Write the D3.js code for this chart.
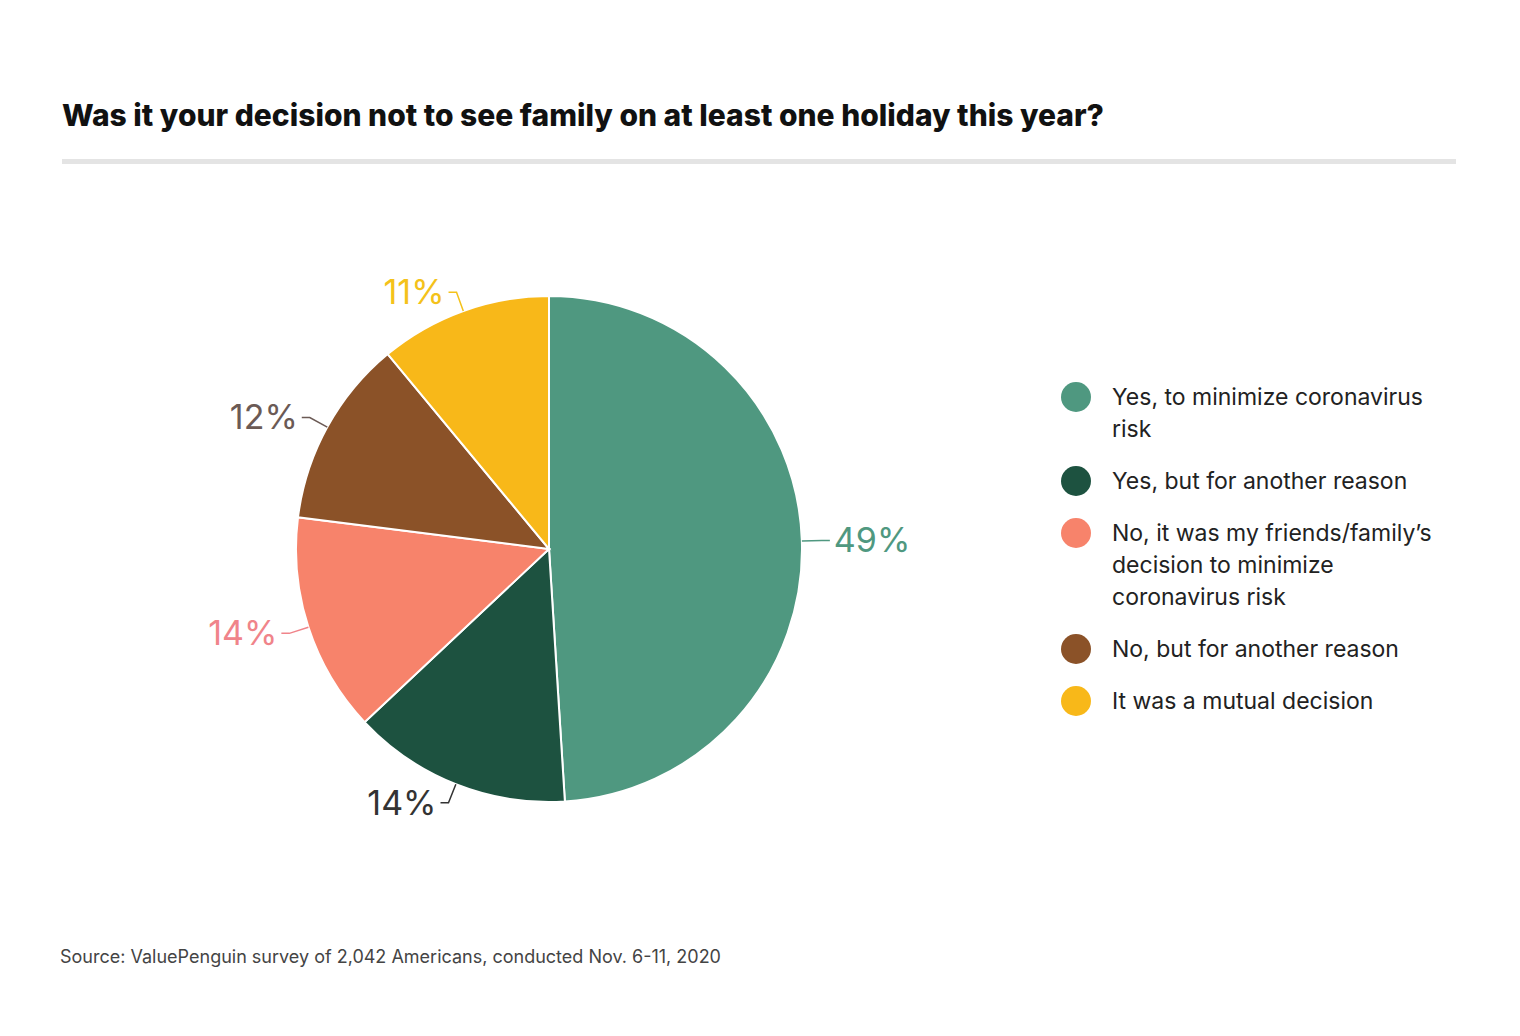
<!DOCTYPE html>
<html><head><meta charset="utf-8">
<script src="https://cdn.jsdelivr.net/npm/d3@7"></script>
<style>body{margin:0;background:#fff;font-family:Inter,"Noto Sans",sans-serif;}</style>
</head><body><div id="viz"></div>
<script>
var categories = ["Yes, to minimize coronavirus risk", "Yes, but for another reason",
  "No, it was my friends/family's decision to minimize coronavirus risk",
  "No, but for another reason", "It was a mutual decision"];
var legendLines = [["Yes, to minimize coronavirus", "risk"], ["Yes, but for another reason"],
  ["No, it was my friends/family’s", "decision to minimize", "coronavirus risk"],
  ["No, but for another reason"], ["It was a mutual decision"]];
var values = [49, 14, 14, 12, 11];
var colors = ["#4f9880", "#1d5240", "#f7836b", "#8b5228", "#f8b819"];
var labelColors = ["#4f9880", "#333333", "#f0848a", "#6b5a55", "#f4c21a"];

var cx = 549, cy = 549, r = 253;
var svg = d3.select("#viz").append("svg").attr("width", 1520).attr("height", 1036);

svg.append("text").attr("x", 62).attr("y", 126).attr("font-size", 30).attr("font-weight", 800)
  .attr("fill", "#111").text("Was it your decision not to see family on at least one holiday this year?");
svg.append("rect").attr("x", 62).attr("y", 159).attr("width", 1394).attr("height", 5).attr("fill", "#e4e4e4");

var pie = d3.pie().sort(null).value(function(d) { return d; });
var arcs = pie(values);
var arc = d3.arc().innerRadius(0).outerRadius(r);
var g = svg.append("g").attr("transform", "translate(" + cx + "," + cy + ")");
g.selectAll("path").data(arcs).enter().append("path")
  .attr("d", arc).attr("fill", function(d, i) { return colors[i]; })
  .attr("stroke", "#fff").attr("stroke-width", 2);

arcs.forEach(function(d, i) {
  var a = (d.startAngle + d.endAngle) / 2;
  var p0 = [Math.sin(a) * r, -Math.cos(a) * r];
  var p1 = [Math.sin(a) * (r + 20), -Math.cos(a) * (r + 20)];
  var right = Math.sin(a) > 0;
  var p2 = [p1[0] + (right ? 8 : -8), p1[1]];
  g.append("polyline").attr("points", [p0, p1, p2].join(" "))
    .attr("fill", "none").attr("stroke", labelColors[i]).attr("stroke-width", 1.5);
  g.append("text").attr("x", p2[0] + (right ? 4 : -4)).attr("y", p2[1] + 12)
    .attr("text-anchor", right ? "start" : "end").attr("font-size", 34)
    .attr("fill", labelColors[i]).text(values[i] + "%");
});

var legendY = [397, 481, 533, 649, 701];
var lg = svg.append("g");
legendLines.forEach(function(lines, i) {
  lg.append("circle").attr("cx", 1076).attr("cy", legendY[i]).attr("r", 15).attr("fill", colors[i]);
  lines.forEach(function(t, j) {
    lg.append("text").attr("x", 1112).attr("y", legendY[i] + 8 + j * 32)
      .attr("font-size", 23).attr("fill", "#222").text(t);
  });
});

svg.append("text").attr("x", 60).attr("y", 963).attr("font-size", 18).attr("fill", "#444")
  .text("Source: ValuePenguin survey of 2,042 Americans, conducted Nov. 6-11, 2020");
</script></body></html>
